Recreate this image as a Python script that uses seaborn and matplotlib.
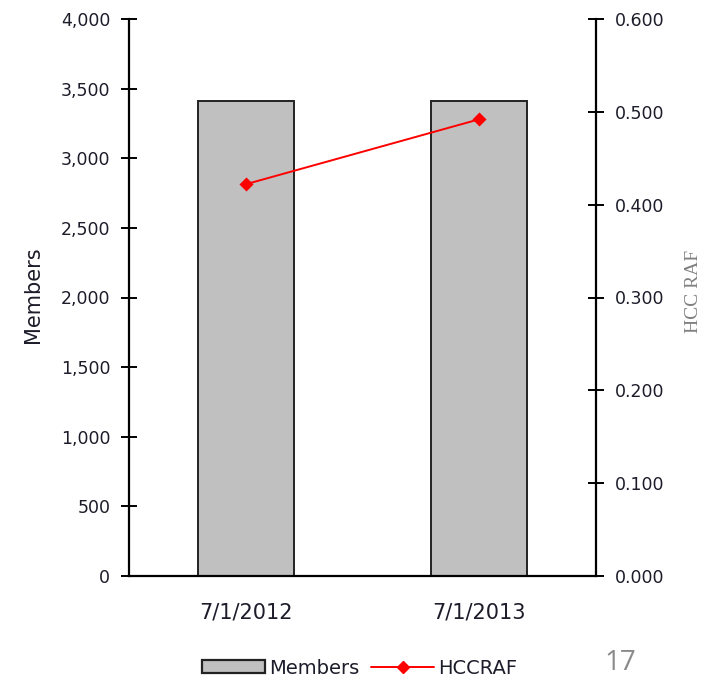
import matplotlib
matplotlib.use("Agg")
import matplotlib.pyplot as plt
from matplotlib.patches import Patch
from matplotlib.lines import Line2D
from matplotlib.ticker import FuncFormatter, FixedLocator
import seaborn as sns

# chart data
dates = ["7/1/2012", "7/1/2013"]
members = [3410, 3410]
hcc_raf = [0.422, 0.492]

left_ticks = [0, 500, 1000, 1500, 2000, 2500, 3000, 3500, 4000]
right_ticks = [0.0, 0.1, 0.2, 0.3, 0.4, 0.5, 0.6]

BAR_GRAY = "#c0c0c0"
TXT = "#1c1c2a"

sns.set_style("white")
plt.rcParams["font.family"] = ["DejaVu Sans"]

fig = plt.figure(figsize=(7.14, 6.77), dpi=100)
ax = fig.add_axes([129 / 714, 1 - 576 / 677, 467 / 714, 557 / 677])

# bars - members
sns.barplot(x=dates, y=members, color=BAR_GRAY, saturation=1, width=0.41,
            edgecolor="#222222", linewidth=1.4, ax=ax)

# line - HCC RAF on the right axis
ax2 = ax.twinx()
sns.pointplot(x=dates, y=hcc_raf, color="red", markers="D", errorbar=None,
              markersize=6, linewidth=1.4, ax=ax2)

ax.set_xlim(-0.5, 1.5)
ax.set_ylim(0, 4000)
ax2.set_ylim(0, 0.6)

# axis ticks
ax.yaxis.set_major_locator(FixedLocator(left_ticks))
ax.yaxis.set_major_formatter(FuncFormatter(lambda v, p: f"{int(v):,}"))
ax2.yaxis.set_major_locator(FixedLocator(right_ticks))
ax2.yaxis.set_major_formatter(FuncFormatter(lambda v, p: f"{v:.3f}"))

ax.set_xticks([0, 1])
ax.set_xticklabels(dates)
ax.set_xticks([-0.5, 0.5, 1.5], minor=True)
ax.tick_params(axis="x", which="major", length=0, pad=19, labelsize=15, labelcolor=TXT)
ax.tick_params(axis="x", which="minor", direction="inout", length=11, width=1.4, color="black")
ax.tick_params(axis="y", direction="inout", length=11, width=1.4, color="black",
               pad=8, labelsize=12.5, labelcolor=TXT, left=True)
ax2.tick_params(axis="y", direction="inout", length=11, width=1.4, color="black",
                pad=8, labelsize=12.5, labelcolor=TXT, right=True)

# spines
for a in (ax, ax2):
    a.spines["top"].set_visible(False)
    for s in a.spines.values():
        s.set_color("black")
        s.set_linewidth(1.6)
ax.spines["right"].set_visible(False)
ax2.spines["left"].set_visible(False)
ax2.spines["bottom"].set_visible(False)

ax.set_xlabel("")
ax.set_ylabel("Members", fontsize=15, color=TXT, va="center")
ax.yaxis.set_label_coords(-0.205, 0.505)
ax2.set_ylabel("HCC RAF", fontsize=14, color="#808080", va="center",
               family=["Liberation Serif"], rotation=90)
ax2.yaxis.set_label_coords(1.208, 0.51)

# legend
handles = [
    Patch(facecolor=BAR_GRAY, edgecolor="#222222", linewidth=1.6),
    Line2D([], [], color="red", marker="D", markersize=6, linewidth=1.4),
]
fig.legend(handles, ["Members", "HCCRAF"], loc="center", ncol=2, frameon=False,
           bbox_to_anchor=(360 / 714, 1 - 668 / 677), fontsize=14,
           handlelength=3.2, handleheight=0.65, handletextpad=0.25,
           columnspacing=0.6, labelcolor=TXT)

# slide page number
fig.text(620 / 714, 1 - 663 / 677, "17", fontsize=20, color="#8a8a8a",
         ha="center", va="center", family=["Open Sans", "DejaVu Sans"])

fig.savefig("out.png", dpi=100)
